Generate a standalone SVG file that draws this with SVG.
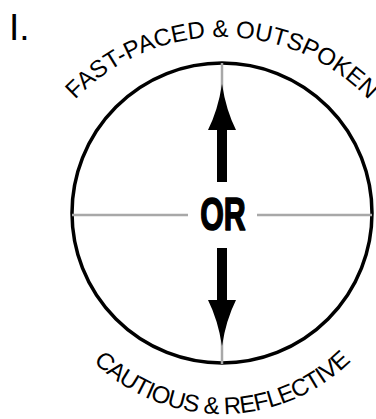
<svg xmlns="http://www.w3.org/2000/svg" width="376" height="419" viewBox="0 0 376 419">
<defs>
<style>
.ring{fill:none;stroke:#000;stroke-width:3.5}
.guide{stroke:#a8a8a8;stroke-width:2.5;fill:none}
.arr{fill:#000}
.arc{font-family:"Liberation Sans",Arial,sans-serif;font-size:24px;fill:#000}
.or{font-family:"Liberation Sans",Arial,sans-serif;font-weight:bold;font-size:46px;fill:#000;stroke:#000;stroke-width:1.6;stroke-linejoin:round}
.num{font-family:"Liberation Sans",Arial,sans-serif;font-size:37px;fill:#000}
</style>
<path id="topArc" d="M46.2,138.5 A203,203 0 0,1 397.8,138.5"/>
<path id="botArc" d="M49.1,292.9 A184,184 0 0,0 394.9,292.9"/>
</defs>
<rect width="376" height="419" fill="#fff"/>
<g id="label-number"><text class="num" x="9" y="40">I.</text></g>
<g id="dial">
<circle class="ring" cx="222" cy="213" r="150"/>
</g>
<g id="connectors">
<line class="guide" x1="222" y1="63" x2="222" y2="135"/>
<line class="guide" x1="222" y1="295" x2="222" y2="364"/>
<line class="guide" x1="72" y1="215" x2="188" y2="215"/>
<line class="guide" x1="257" y1="215" x2="372" y2="215"/>
<path class="arr" d="M222,84 Q226,110 236,130 L227,130 L227,182 L217,182 L217,130 L208,130 Q218,110 222,84 Z"/>
<path class="arr" d="M222,346 Q226,320 236,300 L227,300 L227,248 L217,248 L217,300 L208,300 Q218,320 222,346 Z"/>
</g>
<g id="node-or"><text class="or" transform="translate(223,230) scale(0.66,1)" text-anchor="middle">OR</text></g>
<g id="node-top"><text class="arc"><textPath href="#topArc" startOffset="50%" text-anchor="middle">FAST-PACED &amp; OUTSPOKEN</textPath></text></g>
<g id="node-bottom"><text class="arc" letter-spacing="-0.8"><textPath href="#botArc" startOffset="50%" text-anchor="middle">CAUTIOUS &amp; REFLECTIVE</textPath></text></g>
</svg>
